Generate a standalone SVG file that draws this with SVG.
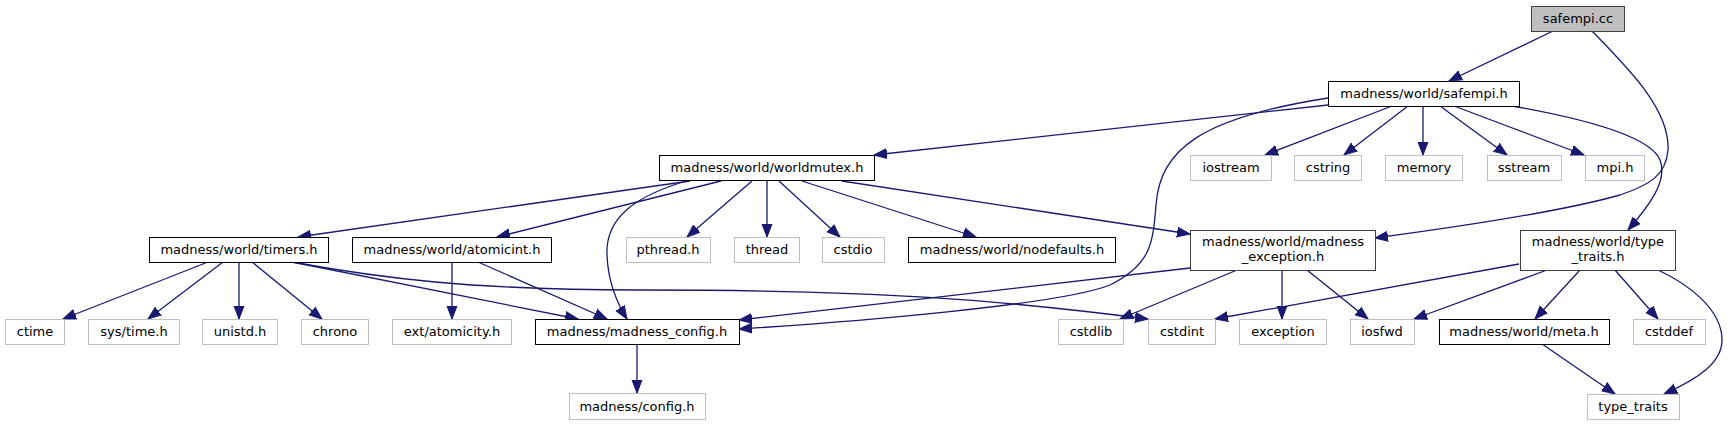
<svg xmlns="http://www.w3.org/2000/svg" width="1727" height="425" viewBox="0 0 1727 425">
<style>
rect{fill:#fff;stroke:#000;stroke-width:1}
.g rect{stroke:#bfbfbf}
.d rect{stroke:#404040}
.r rect{fill:#bfbfbf;stroke:#404040}
text{font-family:"DejaVu Sans","Liberation Sans",sans-serif;font-size:13px;text-anchor:middle;fill:#000}
.e path{fill:none;stroke:#191970;stroke-width:1.3;marker-end:url(#a)}
</style>
<defs>
<marker id="a" markerUnits="userSpaceOnUse" markerWidth="14" markerHeight="12" viewBox="0 0 14 10" refX="13" refY="5" orient="auto"><path d="M0,0 L13,5 L0,10 z" fill="#191970" stroke="#191970" stroke-width="1"/></marker>
</defs>
<g class="e" id="edges">
<path d="M1553,31 L1449,81"/>
<path d="M1592,31 C1630,70 1670,110 1668,150 C1666,175 1650,185 1620,195 C1560,212 1450,228 1375,238"/>
<path d="M1328,105 L874,155"/>
<path d="M1328,98 C1200,118 1160,150 1156,205 C1153,245 1150,265 1110,285 C1060,305 850,322 739,329"/>
<path d="M1392,106 L1265,155"/>
<path d="M1408,106 L1344,155"/>
<path d="M1423,106 L1423,155"/>
<path d="M1440,106 L1507,155"/>
<path d="M1454,106 L1584,155"/>
<path d="M1512,106 C1580,118 1650,135 1660,160 C1668,180 1650,205 1628,230"/>
<path d="M690,181 L298,237"/>
<path d="M721,181 L497,237"/>
<path d="M686,181 C640,195 605,215 607,255 C608,280 615,300 627,319"/>
<path d="M752,181 L687,237"/>
<path d="M767,181 L767,237"/>
<path d="M779,181 L840,237"/>
<path d="M802,181 L976,237"/>
<path d="M842,181 L1190,234"/>
<path d="M208,262 L63,319"/>
<path d="M223,262 L148,319"/>
<path d="M239,262 L239,319"/>
<path d="M252,262 L322,319"/>
<path d="M292,262 L578,319"/>
<path d="M292,262 C380,278 470,290 640,290 C880,290 1000,300 1148,319"/>
<path d="M452,262 L452,319"/>
<path d="M478,262 L607,319"/>
<path d="M1190,268 L739,320"/>
<path d="M1237,270 L1120,319"/>
<path d="M1282,270 L1282,319"/>
<path d="M1307,270 L1368,319"/>
<path d="M1519,264 L1215,319"/>
<path d="M1547,270 L1414,319"/>
<path d="M1580,270 L1535,319"/>
<path d="M1615,270 L1658,319"/>
<path d="M1658,270 C1690,285 1722,310 1722,340 C1722,362 1700,378 1664,394"/>
<path d="M1542,344 L1615,394"/>
<path d="M637,344 L637,393"/>
</g>
<g id="n_safempi_cc" class="r"><rect x="1531.5" y="6.5" width="93" height="25"/><text x="1578" y="23">safempi.cc</text></g>
<g id="n_safempi_h"><rect x="1328.5" y="81.5" width="191" height="25"/><text x="1424" y="98">madness/world/safempi.h</text></g>
<g id="n_worldmutex"><rect x="659.5" y="155.5" width="215" height="25"/><text x="767" y="172">madness/world/worldmutex.h</text></g>
<g id="n_iostream" class="g"><rect x="1190.5" y="155.5" width="81" height="25"/><text x="1231" y="172">iostream</text></g>
<g id="n_cstring" class="g"><rect x="1294.5" y="155.5" width="67" height="25"/><text x="1328" y="172">cstring</text></g>
<g id="n_memory" class="g"><rect x="1385.5" y="155.5" width="77" height="25"/><text x="1424" y="172">memory</text></g>
<g id="n_sstream" class="g"><rect x="1487.5" y="155.5" width="74" height="25"/><text x="1524" y="172">sstream</text></g>
<g id="n_mpi" class="g"><rect x="1585.5" y="155.5" width="59" height="25"/><text x="1615" y="172">mpi.h</text></g>
<g id="n_timers"><rect x="149.5" y="237.5" width="179" height="25"/><text x="239" y="254">madness/world/timers.h</text></g>
<g id="n_atomicint"><rect x="352.5" y="237.5" width="199" height="25"/><text x="452" y="254">madness/world/atomicint.h</text></g>
<g id="n_pthread" class="g"><rect x="626.5" y="237.5" width="84" height="25"/><text x="668" y="254">pthread.h</text></g>
<g id="n_thread" class="g"><rect x="734.5" y="237.5" width="65" height="25"/><text x="767" y="254">thread</text></g>
<g id="n_cstdio" class="g"><rect x="822.5" y="237.5" width="62" height="25"/><text x="853" y="254">cstdio</text></g>
<g id="n_nodefaults"><rect x="908.5" y="237.5" width="207" height="25"/><text x="1012" y="254">madness/world/nodefaults.h</text></g>
<g id="n_madness_exception" class="d"><rect x="1190.5" y="230.5" width="185" height="40"/><text x="1283" y="246">madness/world/madness</text><text x="1283" y="261">_exception.h</text></g>
<g id="n_type_traits_h" class="d"><rect x="1520.5" y="230.5" width="155" height="40"/><text x="1598" y="246">madness/world/type</text><text x="1598" y="261">_traits.h</text></g>
<g id="n_ctime" class="g"><rect x="5.5" y="319.5" width="59" height="25"/><text x="35" y="336">ctime</text></g>
<g id="n_systime" class="g"><rect x="88.5" y="319.5" width="91" height="25"/><text x="134" y="336">sys/time.h</text></g>
<g id="n_unistd" class="g"><rect x="202.5" y="319.5" width="75" height="25"/><text x="240" y="336">unistd.h</text></g>
<g id="n_chrono" class="g"><rect x="301.5" y="319.5" width="67" height="25"/><text x="335" y="336">chrono</text></g>
<g id="n_atomicity" class="g"><rect x="392.5" y="319.5" width="119" height="25"/><text x="452" y="336">ext/atomicity.h</text></g>
<g id="n_madness_config"><rect x="535.5" y="319.5" width="204" height="25"/><text x="637" y="336">madness/madness_config.h</text></g>
<g id="n_cstdlib" class="g"><rect x="1058.5" y="319.5" width="65" height="25"/><text x="1091" y="336">cstdlib</text></g>
<g id="n_cstdint" class="g"><rect x="1148.5" y="319.5" width="67" height="25"/><text x="1182" y="336">cstdint</text></g>
<g id="n_exception" class="g"><rect x="1239.5" y="319.5" width="87" height="25"/><text x="1283" y="336">exception</text></g>
<g id="n_iosfwd" class="g"><rect x="1350.5" y="319.5" width="64" height="25"/><text x="1382" y="336">iosfwd</text></g>
<g id="n_meta"><rect x="1439.5" y="319.5" width="170" height="25"/><text x="1524" y="336">madness/world/meta.h</text></g>
<g id="n_cstddef" class="g"><rect x="1633.5" y="319.5" width="72" height="25"/><text x="1669" y="336">cstddef</text></g>
<g id="n_config" class="g"><rect x="569.5" y="393.5" width="136" height="26"/><text x="637" y="411">madness/config.h</text></g>
<g id="n_type_traits" class="g"><rect x="1587.5" y="394.5" width="92" height="25"/><text x="1633" y="411">type_traits</text></g>
</svg>
